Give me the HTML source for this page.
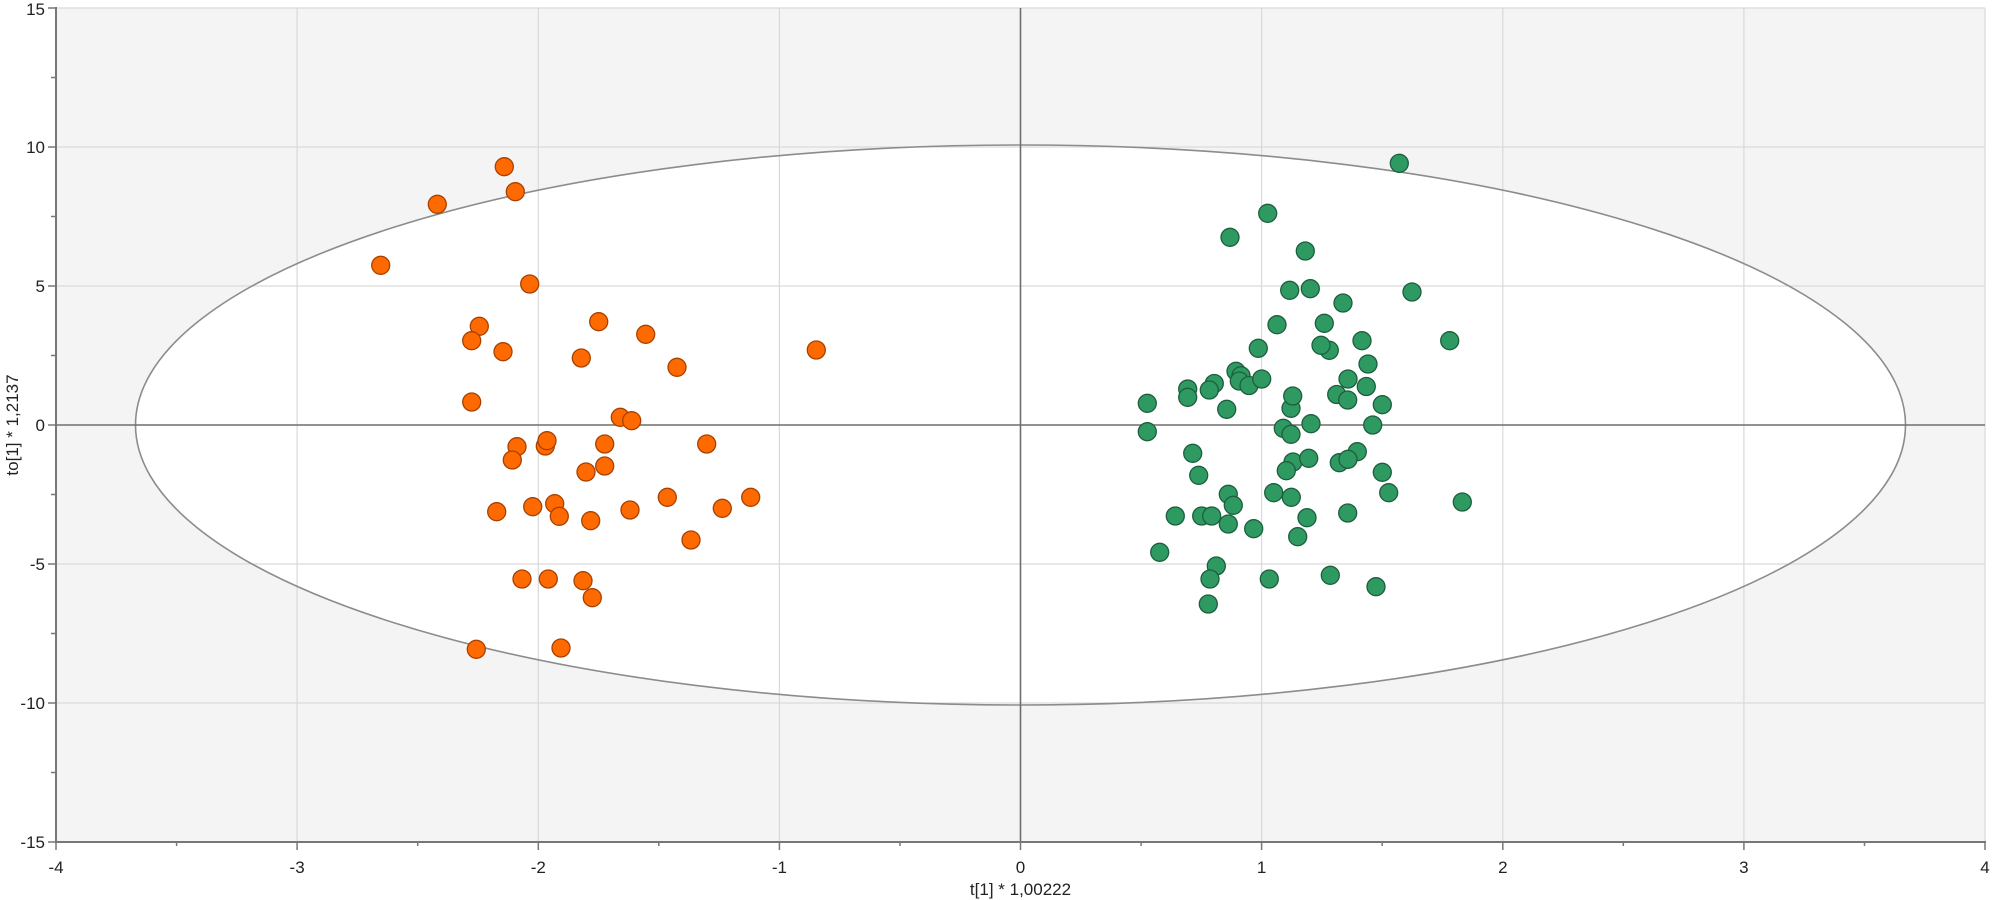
<!DOCTYPE html>
<html>
<head>
<meta charset="utf-8">
<style>
  html,body{margin:0;padding:0;background:#fff;}
  svg{display:block;}
  text{font-family:"Liberation Sans",sans-serif;fill:#222;}
</style>
</head>
<body>
<svg width="1993" height="900" viewBox="0 0 1993 900" xmlns="http://www.w3.org/2000/svg">
  <rect x="56" y="8" width="1929" height="834" fill="#f4f4f4"/>
  <ellipse cx="1020.5" cy="425" rx="885" ry="280" fill="#ffffff"/>
  <g stroke="#d9d9d9" stroke-width="1.2">
    <line x1="297.1" y1="8" x2="297.1" y2="842"/>
    <line x1="538.3" y1="8" x2="538.3" y2="842"/>
    <line x1="779.4" y1="8" x2="779.4" y2="842"/>
    <line x1="1261.6" y1="8" x2="1261.6" y2="842"/>
    <line x1="1502.8" y1="8" x2="1502.8" y2="842"/>
    <line x1="1743.9" y1="8" x2="1743.9" y2="842"/>
    <line x1="1985" y1="8" x2="1985" y2="842"/>
    <line x1="56" y1="8" x2="1985" y2="8"/>
    <line x1="56" y1="147" x2="1985" y2="147"/>
    <line x1="56" y1="286" x2="1985" y2="286"/>
    <line x1="56" y1="564" x2="1985" y2="564"/>
    <line x1="56" y1="703" x2="1985" y2="703"/>
  </g>
  <ellipse cx="1020.5" cy="425" rx="885" ry="280" fill="none" stroke="#8c8c8c" stroke-width="1.6"/>
  <line x1="1020.5" y1="8" x2="1020.5" y2="842" stroke="#6e6e6e" stroke-width="1.6"/>
  <line x1="56" y1="425" x2="1985" y2="425" stroke="#6e6e6e" stroke-width="1.6"/>

  <g fill="#ff6a00" stroke="#a84000" stroke-width="1.3">
    <circle cx="504.3" cy="166.7" r="9"/>
    <circle cx="515.3" cy="191.7" r="9"/>
    <circle cx="437.3" cy="204.3" r="9"/>
    <circle cx="380.7" cy="265.3" r="9"/>
    <circle cx="529.7" cy="284" r="9"/>
    <circle cx="479.3" cy="326.3" r="9"/>
    <circle cx="471.7" cy="340.7" r="9"/>
    <circle cx="503" cy="351.7" r="9"/>
    <circle cx="598.7" cy="321.7" r="9"/>
    <circle cx="645.7" cy="334.3" r="9"/>
    <circle cx="581.3" cy="358" r="9"/>
    <circle cx="677" cy="367.3" r="9"/>
    <circle cx="816.3" cy="350" r="9"/>
    <circle cx="471.7" cy="402" r="9"/>
    <circle cx="620.3" cy="417.3" r="9"/>
    <circle cx="631.7" cy="420.7" r="9"/>
    <circle cx="517" cy="446.7" r="9"/>
    <circle cx="545.3" cy="446" r="9"/>
    <circle cx="547" cy="440.7" r="9"/>
    <circle cx="512.3" cy="460" r="9"/>
    <circle cx="604.7" cy="444" r="9"/>
    <circle cx="604.7" cy="466" r="9"/>
    <circle cx="586" cy="472" r="9"/>
    <circle cx="706.7" cy="444" r="9"/>
    <circle cx="496.7" cy="511.7" r="9"/>
    <circle cx="532.7" cy="506.7" r="9"/>
    <circle cx="554.7" cy="503.7" r="9"/>
    <circle cx="559.3" cy="516.3" r="9"/>
    <circle cx="590.7" cy="520.7" r="9"/>
    <circle cx="630" cy="510" r="9"/>
    <circle cx="667.3" cy="497.3" r="9"/>
    <circle cx="722.3" cy="508.3" r="9"/>
    <circle cx="750.7" cy="497.3" r="9"/>
    <circle cx="691" cy="540" r="9"/>
    <circle cx="522" cy="579" r="9"/>
    <circle cx="548.3" cy="579" r="9"/>
    <circle cx="583" cy="580.7" r="9"/>
    <circle cx="592.3" cy="597.7" r="9"/>
    <circle cx="476.3" cy="649.3" r="9"/>
    <circle cx="561" cy="648" r="9"/>
  </g>

  <g fill="#2e9a62" stroke="#1d5e3c" stroke-width="1.3">
    <circle cx="1399.3" cy="163.3" r="9"/>
    <circle cx="1267.7" cy="213.3" r="9"/>
    <circle cx="1230" cy="237.3" r="9"/>
    <circle cx="1305.3" cy="251" r="9"/>
    <circle cx="1289.7" cy="290.3" r="9"/>
    <circle cx="1310.3" cy="288.7" r="9"/>
    <circle cx="1412" cy="292" r="9"/>
    <circle cx="1343" cy="303" r="9"/>
    <circle cx="1277" cy="324.7" r="9"/>
    <circle cx="1324.3" cy="323.3" r="9"/>
    <circle cx="1362" cy="340.7" r="9"/>
    <circle cx="1449.7" cy="340.7" r="9"/>
    <circle cx="1329.3" cy="350.3" r="9"/>
    <circle cx="1321" cy="345.3" r="9"/>
    <circle cx="1258.3" cy="348.3" r="9"/>
    <circle cx="1368" cy="364" r="9"/>
    <circle cx="1236" cy="371.3" r="9"/>
    <circle cx="1241" cy="375.7" r="9"/>
    <circle cx="1239.3" cy="381" r="9"/>
    <circle cx="1249" cy="385.5" r="9"/>
    <circle cx="1261.7" cy="379" r="9"/>
    <circle cx="1348" cy="379" r="9"/>
    <circle cx="1366.3" cy="386.5" r="9"/>
    <circle cx="1187.7" cy="389" r="9"/>
    <circle cx="1187.7" cy="397.3" r="9"/>
    <circle cx="1214.3" cy="383.5" r="9"/>
    <circle cx="1209.3" cy="390" r="9"/>
    <circle cx="1147.3" cy="403.3" r="9"/>
    <circle cx="1226.7" cy="409.3" r="9"/>
    <circle cx="1291" cy="408.3" r="9"/>
    <circle cx="1292.7" cy="396" r="9"/>
    <circle cx="1336.7" cy="394.5" r="9"/>
    <circle cx="1347.7" cy="400" r="9"/>
    <circle cx="1382.3" cy="404.7" r="9"/>
    <circle cx="1147.3" cy="431.7" r="9"/>
    <circle cx="1283.3" cy="428.3" r="9"/>
    <circle cx="1291" cy="434.3" r="9"/>
    <circle cx="1311" cy="423.7" r="9"/>
    <circle cx="1372.7" cy="425" r="9"/>
    <circle cx="1192.7" cy="453.3" r="9"/>
    <circle cx="1198.7" cy="475.3" r="9"/>
    <circle cx="1293" cy="462" r="9"/>
    <circle cx="1286.3" cy="470.7" r="9"/>
    <circle cx="1308.7" cy="458.3" r="9"/>
    <circle cx="1357.3" cy="451.7" r="9"/>
    <circle cx="1339.3" cy="462.7" r="9"/>
    <circle cx="1348" cy="459.3" r="9"/>
    <circle cx="1382.3" cy="472.3" r="9"/>
    <circle cx="1388.7" cy="492.7" r="9"/>
    <circle cx="1462.3" cy="502" r="9"/>
    <circle cx="1228.3" cy="494.3" r="9"/>
    <circle cx="1233.3" cy="505.3" r="9"/>
    <circle cx="1273.7" cy="492.7" r="9"/>
    <circle cx="1291.3" cy="497.3" r="9"/>
    <circle cx="1175.3" cy="516" r="9"/>
    <circle cx="1201.7" cy="516" r="9"/>
    <circle cx="1211.7" cy="516" r="9"/>
    <circle cx="1228.3" cy="524" r="9"/>
    <circle cx="1253.7" cy="528.7" r="9"/>
    <circle cx="1307" cy="517.7" r="9"/>
    <circle cx="1347.7" cy="513" r="9"/>
    <circle cx="1297.7" cy="536.7" r="9"/>
    <circle cx="1159.7" cy="552.3" r="9"/>
    <circle cx="1216.3" cy="566" r="9"/>
    <circle cx="1210" cy="579" r="9"/>
    <circle cx="1269.3" cy="579" r="9"/>
    <circle cx="1330.3" cy="575.3" r="9"/>
    <circle cx="1376" cy="586.7" r="9"/>
    <circle cx="1208.3" cy="604" r="9"/>
  </g>

  <g stroke="#777777" stroke-width="2">
    <line x1="56" y1="7" x2="56" y2="843"/>
    <line x1="55" y1="842" x2="1986" y2="842"/>
  </g>
  <g stroke="#777777" stroke-width="1.5">
    <line x1="48" y1="8" x2="56" y2="8"/>
    <line x1="48" y1="147" x2="56" y2="147"/>
    <line x1="48" y1="286" x2="56" y2="286"/>
    <line x1="48" y1="425" x2="56" y2="425"/>
    <line x1="48" y1="564" x2="56" y2="564"/>
    <line x1="48" y1="703" x2="56" y2="703"/>
    <line x1="48" y1="842" x2="56" y2="842"/>
    <line x1="51" y1="77.5" x2="56" y2="77.5"/>
    <line x1="51" y1="216.5" x2="56" y2="216.5"/>
    <line x1="51" y1="355.5" x2="56" y2="355.5"/>
    <line x1="51" y1="494.5" x2="56" y2="494.5"/>
    <line x1="51" y1="633.5" x2="56" y2="633.5"/>
    <line x1="51" y1="772.5" x2="56" y2="772.5"/>
  </g>
  <g stroke="#777777" stroke-width="1.5">
    <line x1="56" y1="842" x2="56" y2="850"/>
    <line x1="297.1" y1="842" x2="297.1" y2="850"/>
    <line x1="538.3" y1="842" x2="538.3" y2="850"/>
    <line x1="779.4" y1="842" x2="779.4" y2="850"/>
    <line x1="1020.5" y1="842" x2="1020.5" y2="850"/>
    <line x1="1261.6" y1="842" x2="1261.6" y2="850"/>
    <line x1="1502.8" y1="842" x2="1502.8" y2="850"/>
    <line x1="1743.9" y1="842" x2="1743.9" y2="850"/>
    <line x1="1985" y1="842" x2="1985" y2="850"/>
    <line x1="176.6" y1="842" x2="176.6" y2="846"/>
    <line x1="417.7" y1="842" x2="417.7" y2="846"/>
    <line x1="658.8" y1="842" x2="658.8" y2="846"/>
    <line x1="900" y1="842" x2="900" y2="846"/>
    <line x1="1141.1" y1="842" x2="1141.1" y2="846"/>
    <line x1="1382.2" y1="842" x2="1382.2" y2="846"/>
    <line x1="1623.3" y1="842" x2="1623.3" y2="846"/>
    <line x1="1864.5" y1="842" x2="1864.5" y2="846"/>
  </g>

  <g font-size="17" text-anchor="end">
    <text x="45" y="15">15</text>
    <text x="45" y="153">10</text>
    <text x="45" y="292">5</text>
    <text x="45" y="431">0</text>
    <text x="45" y="570">-5</text>
    <text x="45" y="709">-10</text>
    <text x="45" y="848">-15</text>
  </g>
  <g font-size="17" text-anchor="middle">
    <text x="56" y="873">-4</text>
    <text x="297.1" y="873">-3</text>
    <text x="538.3" y="873">-2</text>
    <text x="779.4" y="873">-1</text>
    <text x="1020.5" y="873">0</text>
    <text x="1261.6" y="873">1</text>
    <text x="1502.8" y="873">2</text>
    <text x="1743.9" y="873">3</text>
    <text x="1985" y="873">4</text>
  </g>
  <text x="1020.5" y="895" font-size="17" text-anchor="middle">t[1] * 1,00222</text>
  <text x="0" y="0" font-size="17" text-anchor="middle" transform="translate(18,425) rotate(-90)">to[1] * 1,2137</text>
</svg>
</body>
</html>
